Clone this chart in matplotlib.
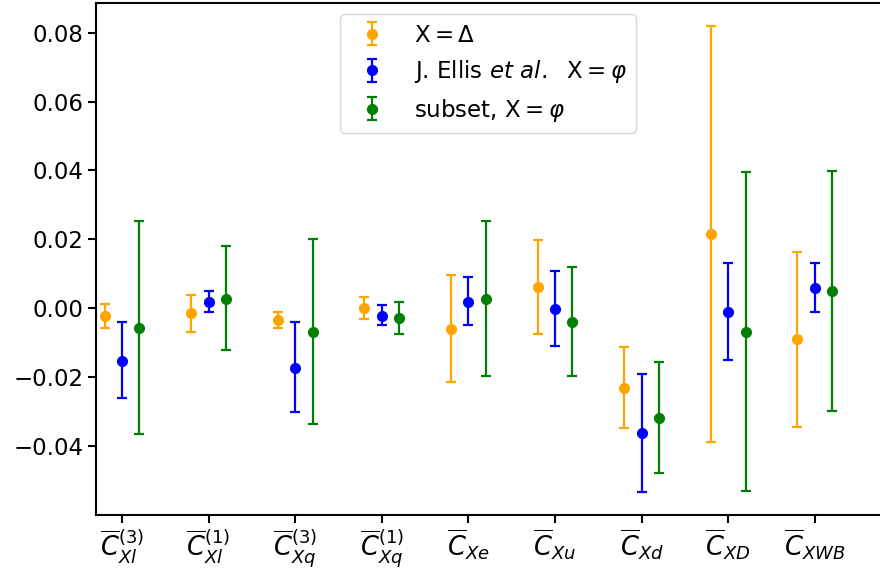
import matplotlib
matplotlib.use('Agg')
import matplotlib.pyplot as plt
import numpy as np

labels = [r'$\overline{C}_{Xl}^{(3)}$', r'$\overline{C}_{Xl}^{(1)}$', r'$\overline{C}_{Xq}^{(3)}$',
          r'$\overline{C}_{Xq}^{(1)}$', r'$\overline{C}_{Xe}$', r'$\overline{C}_{Xu}$',
          r'$\overline{C}_{Xd}$', r'$\overline{C}_{XD}$', r'$\overline{C}_{XWB}$']

# X = Delta
delta_c = [-0.0022, -0.0015, -0.0034, 0.0002, -0.0059, 0.0063, -0.0232, 0.0215, -0.0090]
delta_lo = [-0.0057, -0.0068, -0.0056, -0.0030, -0.0213, -0.0074, -0.0348, -0.0388, -0.0345]
delta_hi = [0.0013, 0.0039, -0.0011, 0.0034, 0.0098, 0.0199, -0.0112, 0.0820, 0.0164]

# J. Ellis et al., X = phi
ellis_c = [-0.0152, 0.0018, -0.0172, -0.0021, 0.0018, -0.0001, -0.0363, -0.0012, 0.0059]
ellis_lo = [-0.0261, -0.0011, -0.0301, -0.0050, -0.0050, -0.0110, -0.0532, -0.0151, -0.0011]
ellis_hi = [-0.0041, 0.0050, -0.0040, 0.0009, 0.0090, 0.0109, -0.0191, 0.0131, 0.0131]

# subset, X = phi
sub_c = [-0.0056, 0.0028, -0.0068, -0.0028, 0.0028, -0.0040, -0.0318, -0.0069, 0.0049]
sub_lo = [-0.0364, -0.0122, -0.0335, -0.0074, -0.0196, -0.0196, -0.0477, -0.0530, -0.0297]
sub_hi = [0.0253, 0.0180, 0.0202, 0.0017, 0.0253, 0.0119, -0.0157, 0.0395, 0.0398]

x = np.arange(len(labels))

fig = plt.figure(figsize=(8.8, 5.69), dpi=100)
ax = fig.add_axes([96/880, 1-515/569, 1-96/880, 512/569])

def draw(pos, c, lo, hi, col, lab):
    c = np.array(c)
    err = [c - np.array(lo), np.array(hi) - c]
    ax.errorbar(pos, c, yerr=err, fmt='o', color=col, ms=7, lw=1.6,
                capsize=3.5, capthick=1.6, label=lab)

draw(x - 0.2, delta_c, delta_lo, delta_hi, 'orange', r'$\mathrm{X}=\Delta$')
draw(x, ellis_c, ellis_lo, ellis_hi, 'blue', r'J. Ellis $et\ al.$  $\mathrm{X}=\varphi$')
draw(x + 0.2, sub_c, sub_lo, sub_hi, 'green', r'subset, $\mathrm{X}=\varphi$')

ax.set_xlim(-0.3, 8.753)
ax.set_ylim(-0.0600, 0.0886)
ax.set_xticks(x)
ax.set_xticklabels(labels, fontsize=18.5)
ax.set_yticks([-0.04, -0.02, 0.0, 0.02, 0.04, 0.06, 0.08])
ax.tick_params(axis='y', labelsize=16.5)
ax.tick_params(width=1.5, length=5.5)
for s in ax.spines.values():
    s.set_linewidth(1.5)
ax.spines['right'].set_visible(False)

ax.legend(loc='upper center', fontsize=16.5)

fig.savefig('out.png', dpi=100)
